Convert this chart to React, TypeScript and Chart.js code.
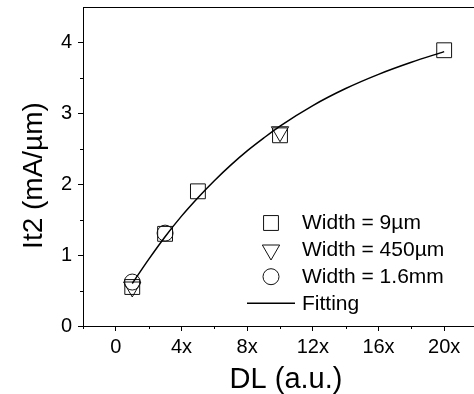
import React, { useEffect, useRef } from 'react';
import { Chart, registerables } from 'chart.js';
import { drawPoint } from 'chart.js/helpers';

Chart.register(...registerables);

// ---- data ----
const xTickLabels = ['0', '4x', '8x', '12x', '16x', '20x'];
const yTickLabels = ['0', '1', '2', '3', '4'];

const sq9umX = [1, 3, 5, 10, 20];
const sq9umY = [0.55, 1.3, 1.9, 2.69, 3.89];

const tri450umX = [1, 10];
const tri450umY = [0.55, 2.74];

const circ16mmX = [1, 3];
const circ16mmY = [0.62, 1.31];

const fitX = [1, 2, 3, 4, 5, 6, 7, 8, 9, 10, 12, 14, 16, 18, 20];
const fitY = [0.6, 0.94, 1.26, 1.55, 1.81, 2.05, 2.27, 2.47, 2.65, 2.82, 3.11, 3.35, 3.55, 3.72, 3.87];

const seriesLabels = ['Width = 9\u00B5m', 'Width = 450\u00B5m', 'Width = 1.6mm', 'Fitting'];
const xTitle = 'DL (a.u.)';
const yTitle = 'It2 (mA/\u00B5m)';

const FONT = "'Liberation Sans', Arial, Helvetica, sans-serif";
const INK = '#000';

const pts = (xs: number[], ys: number[]) => xs.map((x, i) => ({ x, y: ys[i] }));

const zeroPad = (s: any) => {
  s.paddingTop = 0;
  s.paddingBottom = 0;
  s.paddingLeft = 0;
  s.paddingRight = 0;
};

const decorPlugin = {
  id: 'decor',
  afterDraw(chart: any) {
    const { ctx, chartArea } = chart;
    const xs = chart.scales.x;
    const ys = chart.scales.y;
    ctx.save();
    ctx.strokeStyle = INK;
    ctx.lineWidth = 1;
    // top border of frame
    ctx.beginPath();
    ctx.moveTo(chartArea.left, Math.round(chartArea.top) + 0.5);
    ctx.lineTo(chartArea.right, Math.round(chartArea.top) + 0.5);
    ctx.stroke();
    // right border
    ctx.beginPath();
    ctx.moveTo(Math.round(chartArea.right) - 0.5, chartArea.top);
    ctx.lineTo(Math.round(chartArea.right) - 0.5, chartArea.bottom);
    ctx.stroke();
    // minor ticks
    ctx.beginPath();
    xs.ticks.forEach((t: any) => {
      if (t.value % 4 !== 0) {
        const px = Math.round(xs.getPixelForValue(t.value)) + 0.5;
        ctx.moveTo(px, chartArea.bottom);
        ctx.lineTo(px, chartArea.bottom + 3);
      }
    });
    ys.ticks.forEach((t: any) => {
      if (Math.abs(t.value - Math.round(t.value)) > 1e-6 && t.value < ys.max - 1e-6) {
        const py = Math.round(ys.getPixelForValue(t.value)) + 0.5;
        ctx.moveTo(chartArea.left, py);
        ctx.lineTo(chartArea.left - 3, py);
      }
    });
    ctx.stroke();

    // axis titles
    ctx.fillStyle = INK;
    ctx.textAlign = 'center';
    ctx.textBaseline = 'alphabetic';
    ctx.font = `29px ${FONT}`;
    ctx.fillText(xTitle, 286, 387.5);
    ctx.font = `28px ${FONT}`;
    ctx.save();
    ctx.translate(42, 175.5);
    ctx.rotate(-Math.PI / 2);
    ctx.fillText(yTitle, 0, 0);
    ctx.restore();

    // legend
    const lx = 271;
    const rows = [223, 250, 276.7, 303.3];
    const order = [1, 2, 3, 0];
    ctx.font = `21px ${FONT}`;
    ctx.textAlign = 'left';
    ctx.textBaseline = 'middle';
    order.forEach((di, i) => {
      const ds = chart.data.datasets[di];
      const y = rows[i];
      if (di === 0) {
        ctx.beginPath();
        ctx.lineWidth = 1.5;
        ctx.strokeStyle = INK;
        ctx.moveTo(247, y);
        ctx.lineTo(295, y);
        ctx.stroke();
      } else {
        ctx.lineWidth = 1;
        ctx.strokeStyle = '#111';
        ctx.fillStyle = 'rgba(0,0,0,0)';
        drawPoint(ctx, {
          pointStyle: ds.pointStyle,
          radius: ds.pointRadius,
          rotation: ds.pointRotation || 0,
          borderWidth: 1,
        }, lx, y);
        ctx.strokeStyle = INK;
      }
      ctx.fillStyle = INK;
      ctx.fillText(ds.label, 302, y + 0.5);
    });
    ctx.restore();
  },
};

export default function App() {
  const ref = useRef<HTMLCanvasElement | null>(null);
  useEffect(() => {
    if (!ref.current) return;
    const chart = new Chart(ref.current, {
      type: 'scatter',
      data: {
        datasets: [
          {
            label: seriesLabels[3],
            data: pts(fitX, fitY),
            showLine: true,
            borderColor: INK,
            borderWidth: 1.5,
            pointRadius: 0,
            pointHoverRadius: 0,
            cubicInterpolationMode: 'monotone',
            fill: false,
          },
          {
            label: seriesLabels[0],
            data: pts(sq9umX, sq9umY),
            pointStyle: 'rect',
            pointRadius: 10.5,
            borderColor: '#111',
            backgroundColor: 'rgba(0,0,0,0)',
            borderWidth: 1,
          },
          {
            label: seriesLabels[1],
            data: pts(tri450umX, tri450umY),
            pointStyle: 'triangle',
            pointRotation: 180,
            pointRadius: 10,
            borderColor: '#111',
            backgroundColor: 'rgba(0,0,0,0)',
            borderWidth: 1,
          },
          {
            label: seriesLabels[2],
            data: pts(circ16mmX, circ16mmY),
            pointStyle: 'circle',
            pointRadius: 8,
            borderColor: '#111',
            backgroundColor: 'rgba(0,0,0,0)',
            borderWidth: 1,
          },
        ],
      },
      options: {
        animation: false,
        responsive: true,
        maintainAspectRatio: false,
        layout: { autoPadding: false, padding: { top: 7, right: 3, bottom: 0, left: 0 } },
        plugins: { legend: { display: false }, tooltip: { enabled: false }, title: { display: false } },
        events: [],
        scales: {
          x: {
            type: 'linear',
            min: -2,
            max: 22,
            afterFit: (s: any) => { s.height = 68; zeroPad(s); },
            ticks: {
              stepSize: 2,
              padding: 4,
              color: INK,
              font: { family: FONT, size: 20 },
              maxRotation: 0,
              autoSkip: false,
              callback: (v: any) => {
                const n = Number(v);
                return n % 4 === 0 && n >= 0 && n <= 20 ? xTickLabels[n / 4] : '';
              },
            },
            grid: {
              drawOnChartArea: false,
              drawTicks: true,
              tickLength: 5,
              tickColor: (c: any) => (c.tick && c.tick.value % 4 === 0 ? INK : 'rgba(0,0,0,0)'),
            },
            border: { display: true, color: INK, width: 1 },
            title: { display: false },
          },
          y: {
            type: 'linear',
            min: 0,
            max: 4.5,
            afterFit: (s: any) => { s.width = 83; zeroPad(s); },
            ticks: {
              stepSize: 0.5,
              padding: 6,
              color: INK,
              font: { family: FONT, size: 20 },
              autoSkip: false,
              callback: (v: any) => {
                const n = Number(v);
                return Number.isInteger(n) ? yTickLabels[n] : '';
              },
            },
            grid: {
              drawOnChartArea: false,
              drawTicks: true,
              tickLength: 5,
              tickColor: (c: any) => (c.tick && Number.isInteger(c.tick.value) ? INK : 'rgba(0,0,0,0)'),
            },
            border: { display: true, color: INK, width: 1 },
            title: { display: false },
          },
        },
      } as any,
      plugins: [decorPlugin],
    });
    return () => chart.destroy();
  }, []);

  return (
    <div style={{ position: 'fixed', left: 0, top: 0, width: 474, height: 394, overflow: 'hidden', background: '#fff' }}>
      <div style={{ position: 'relative', width: 480, height: 394 }}>
        <canvas ref={ref} />
      </div>
    </div>
  );
}
